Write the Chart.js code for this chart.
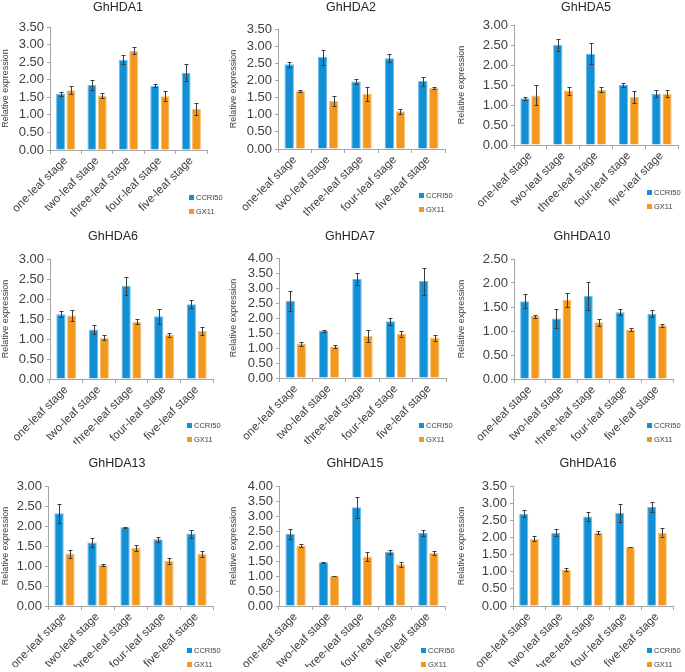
<!DOCTYPE html>
<html>
<head>
<meta charset="utf-8">
<script src="https://cdn.jsdelivr.net/npm/chart.js@4.4.1/dist/chart.umd.min.js"></script>
<style>
  body { margin: 0; width: 685px; height: 672px; overflow: hidden; background: #fff; position: relative;
         font-family: "Liberation Sans", Arial, sans-serif; }
  canvas { position: absolute; }
  .leg { position: absolute; font-size: 7.5px; color: #404040; line-height: 14px; white-space: nowrap; }
  .leg i { display: inline-block; width: 5px; height: 5px; margin-right: 2px; vertical-align: 0px; }
</style>
</head>
<body>
<script>
// stages on the x axis, same for every gene
const stages = ['one-leaf stage', 'two-leaf stage', 'three-leaf stage', 'four-leaf stage', 'five-leaf stage'];
const series = ['CCRI50', 'GX11'];
const genes = ['GhHDA1', 'GhHDA2', 'GhHDA5', 'GhHDA6', 'GhHDA7', 'GhHDA10', 'GhHDA13', 'GhHDA15', 'GhHDA16'];
const yMax = [3.5, 3.5, 3.0, 3.0, 4.0, 2.5, 3.0, 4.0, 3.5];

// relative expression
const ccri50 = [
  [1.60, 1.85, 2.57, 1.83, 2.20],
  [2.47, 2.68, 1.97, 2.65, 1.98],
  [1.17, 2.50, 2.28, 1.50, 1.28],
  [1.62, 1.24, 2.33, 1.57, 1.87],
  [2.57, 1.58, 3.31, 1.89, 3.23],
  [1.62, 1.26, 1.73, 1.39, 1.36],
  [2.32, 1.59, 1.97, 1.67, 1.81],
  [2.40, 1.46, 3.29, 1.81, 2.44],
  [2.69, 2.14, 2.61, 2.72, 2.89]
];
const ccri50Err = [
  [0.06, 0.13, 0.12, 0.04, 0.24],
  [0.08, 0.22, 0.08, 0.12, 0.13],
  [0.04, 0.16, 0.26, 0.04, 0.09],
  [0.07, 0.12, 0.23, 0.19, 0.10],
  [0.32, 0.03, 0.20, 0.12, 0.45],
  [0.15, 0.20, 0.30, 0.06, 0.07],
  [0.24, 0.12, 0.01, 0.06, 0.10],
  [0.18, 0.01, 0.36, 0.07, 0.10],
  [0.10, 0.10, 0.13, 0.26, 0.14]
];
const gx11 = [
  [1.70, 1.55, 2.82, 1.53, 1.17],
  [1.69, 1.40, 1.61, 1.10, 1.78],
  [1.24, 1.36, 1.38, 1.20, 1.28],
  [1.59, 1.03, 1.43, 1.11, 1.20],
  [1.14, 1.05, 1.40, 1.47, 1.34],
  [1.31, 1.65, 1.18, 1.03, 1.12],
  [1.31, 1.03, 1.45, 1.13, 1.30],
  [2.01, 1.00, 1.65, 1.39, 1.77],
  [1.96, 1.06, 2.14, 1.72, 2.14]
];
const gx11Err = [
  [0.12, 0.08, 0.10, 0.14, 0.17],
  [0.02, 0.16, 0.21, 0.08, 0.02],
  [0.25, 0.10, 0.06, 0.14, 0.09],
  [0.14, 0.06, 0.06, 0.05, 0.11],
  [0.07, 0.06, 0.21, 0.09, 0.09],
  [0.03, 0.14, 0.08, 0.04, 0.03],
  [0.10, 0.02, 0.07, 0.07, 0.08],
  [0.05, 0.01, 0.15, 0.08, 0.07],
  [0.07, 0.05, 0.04, 0.01, 0.13]
];

const colors = ['#1290d6', '#f2981e'];
const edges = ['#6cbbe8', '#f7c272'];

// cellX, cellY, titleX, titleY, plotLeft, plotTop, plotRight, plotBottom, legendX, legendY
const layout = [
  [0,   0,   118, 8,  50, 27, 207, 150, 189, 191],
  [228, 0,   123, 7,  50, 29, 217, 149, 191, 189],
  [456, 0,   130, 7,  58, 25, 222, 145, 191, 186],
  [0,   222, 113, 15, 50, 37, 213, 157, 187, 197],
  [228, 222, 122, 15, 51, 36, 218, 156, 191, 197],
  [456, 222, 126, 15, 58, 37, 217, 157, 191, 197],
  [0,   445, 117, 19, 48, 41, 213, 161, 187, 199],
  [228, 445, 127, 19, 51, 41, 217, 161, 193, 199],
  [456, 445, 132, 19, 57, 41, 217, 161, 191, 199]
];

Chart.defaults.font.family = "'Liberation Sans', Arial, sans-serif";
Chart.defaults.color = '#404040';

// error bars drawn on top of the bars, through the y scale
const errorBars = {
  id: 'errorBars',
  afterDatasetsDraw(chart) {
    const ctx = chart.ctx;
    const yScale = chart.scales.y;
    ctx.save();
    ctx.strokeStyle = '#3c3c3c';
    ctx.lineWidth = 1;
    chart.data.datasets.forEach((ds, di) => {
      chart.getDatasetMeta(di).data.forEach((bar, i) => {
        const v = ds.data[i], e = ds.errors[i];
        const x = Math.round(bar.x) + 0.5;
        const y1 = Math.round(yScale.getPixelForValue(v + e)) + 0.5;
        const y2 = Math.round(yScale.getPixelForValue(v - e)) + 0.5;
        ctx.beginPath();
        ctx.moveTo(x, y1); ctx.lineTo(x, y2);
        ctx.moveTo(x - 2, y1); ctx.lineTo(x + 2, y1);
        ctx.moveTo(x - 2, y2); ctx.lineTo(x + 2, y2);
        ctx.stroke();
      });
    });
    ctx.restore();
  }
};

const H = 222;
const TITLE_SIZE = 12.5;

genes.forEach((gene, k) => {
  const [cx, cy, tx, ty, left, top, right, bottom, lx, ly] = layout[k];
  const W = tx * 2;
  const canvas = document.createElement('canvas');
  canvas.width = W;
  canvas.height = H;
  canvas.style.left = cx + 'px';
  canvas.style.top = cy + 'px';
  document.body.appendChild(canvas);

  const lineH = TITLE_SIZE * 1.2;
  const padTop = Math.max(0, ty - lineH / 2);

  new Chart(canvas, {
    type: 'bar',
    data: {
      labels: stages,
      datasets: [
        { label: series[0], data: ccri50[k], errors: ccri50Err[k], backgroundColor: colors[0],
          borderColor: edges[0], borderWidth: 1 },
        { label: series[1], data: gx11[k], errors: gx11Err[k], backgroundColor: colors[1],
          borderColor: edges[1], borderWidth: 1 }
      ]
    },
    options: {
      responsive: false,
      animation: false,
      devicePixelRatio: 1,
      categoryPercentage: 0.66,
      barPercentage: 0.86,
      layout: { padding: { top: padTop, left: 0, right: 0, bottom: 0 } },
      plugins: {
        legend: { display: false },
        tooltip: { enabled: false },
        title: {
          display: true, text: gene, color: '#262626',
          font: { size: TITLE_SIZE, weight: 'normal' },
          padding: { top: 0, bottom: top - padTop - lineH }
        }
      },
      scales: {
        x: {
          offset: true,
          grid: { offset: true, drawOnChartArea: false, tickLength: 4, color: '#a6a6a6' },
          border: { color: '#a6a6a6' },
          ticks: { minRotation: 45, maxRotation: 45, autoSkip: false, padding: 0,
                   font: { size: 11.5 }, color: '#404040' },
          afterFit(s) { s.height = H - bottom; }
        },
        y: {
          min: 0, max: yMax[k],
          grid: { drawOnChartArea: false, tickLength: 3, color: '#a6a6a6' },
          border: { color: '#a6a6a6' },
          ticks: { stepSize: 0.5, autoSkip: false, padding: 3, font: { size: 13 }, color: '#404040',
                   callback: v => v.toFixed(2) },
          title: { display: true, text: 'Relative expression', font: { size: 9 },
                   color: '#404040', padding: 0 },
          afterFit(s) { s.width = left; }
        },
        // empty axis that only keeps the space right of the plot
        yR: {
          position: 'right', display: true,
          grid: { display: false }, border: { display: false },
          ticks: { display: false },
          afterFit(s) { s.width = W - right; }
        }
      }
    },
    plugins: [errorBars]
  });

  const leg = document.createElement('div');
  leg.className = 'leg';
  leg.style.left = (cx + lx) + 'px';
  leg.style.top = (cy + ly) + 'px';
  leg.innerHTML = series.map((s, i) =>
    '<div><i style="background:' + colors[i] + '"></i>' + s + '</div>').join('');
  document.body.appendChild(leg);
});
</script>
</body>
</html>
